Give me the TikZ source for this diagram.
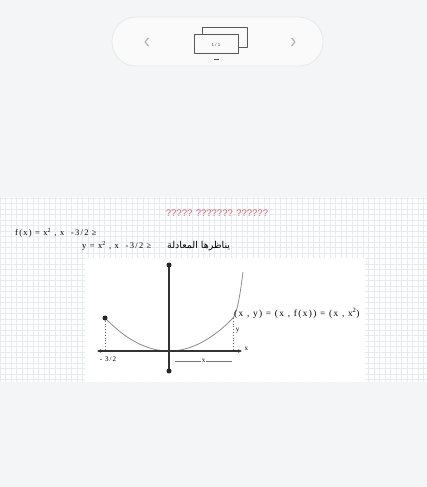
\documentclass[tikz,border=0pt]{standalone}
\usepackage{fontspec}
\setmainfont{Liberation Serif}
\setsansfont{Liberation Sans}
\newfontfamily\arabicfont[Script=Arabic]{DejaVu Sans}
\newfontfamily\spacedfont[LetterSpace=15]{Liberation Serif}
\TeXXeTstate=1
\usepackage{xcolor}
\usetikzlibrary{arrows.meta,calc}
\definecolor{pagebg}{HTML}{F4F5F7}
\definecolor{gridblue}{HTML}{E6EBF2}
\definecolor{titlered}{HTML}{D8646C}
\definecolor{curvegray}{HTML}{8C8C8C}

\begin{document}
\begin{tikzpicture}[x=1pt,y=-1pt,>=Stealth,line join=round,
  dot/.style={circle,fill=black!85,inner sep=0pt,minimum size=5pt},
  txt/.style={inner sep=0pt,anchor=west,font=\spacedfont\fontsize{8.5}{9}\selectfont},
  tiny/.style={inner sep=0.5pt,font=\spacedfont\fontsize{7}{8}\selectfont}]
  \useasboundingbox (0,0) rectangle (427,487);
  \fill[pagebg] (0,0) rectangle (427,487);
  % viewer bar
  \draw[black!9,fill=white!55!pagebg,line width=0.8pt,rounded corners=24pt] (112,17) rectangle (323,66);
  \draw[black!30,line width=1.2pt] (148.5,38) -- (145,42) -- (148.5,46);
  \draw[black!30,line width=1.2pt] (291.5,38) -- (295,42) -- (291.5,46);
  \draw[black!65,line width=1pt] (202,28) rectangle (247,48);
  \draw[black!65,line width=1pt,fill=white!55!pagebg] (194,35) rectangle (238,54);
  \node[font=\sffamily\fontsize{4.5}{5}\selectfont,text=black!70] (pageno) at (216,44.5) {1 / 1};
  \draw[black!70,line width=1pt] (214,59.5) -- (219,59.5);
  % page with grid
  \fill[white] (0,197) rectangle (427,382);
  \draw[gridblue,step=5.5pt,line width=0.3pt] (0,382) grid (427,197);
  \node[inner sep=0pt,font=\sffamily\fontsize{9.5}{10}\selectfont,text=titlered] (title) at (217,213) {????? ??????? ??????};
  \node[txt] (fx) at (15,233) {f(x) = x\textsuperscript{2} , x \ -3/2 ≥};
  \node[txt] (yx) at (82,246) {y = x\textsuperscript{2} , x \ -3/2 ≥};
  \node[inner sep=0pt,anchor=west,font=\arabicfont\fontsize{9.5}{10}\selectfont] (ar) at (167,246) {\beginR يناظرها المعادلة\endR};
  % graph
  \fill[white] (85,258) rectangle (365,382);
  \coordinate (O) at (169,351);
  \coordinate (Ytop) at (169,265);
  \coordinate (Ybot) at (169,371);
  \coordinate (Xl) at (97,351);
  \coordinate (Xr) at (242,351);
  \coordinate (A) at (105,318);
  \coordinate (Afoot) at (105,351);
  \coordinate (B) at (233,318);
  \coordinate (Bfoot) at (233,351);
  \coordinate (T) at (243,272);
  \coordinate (S1) at (175,361);
  \coordinate (S2) at (232,361);
  \draw[curvegray,line width=0.8pt] plot[domain=-1.5:1.5,samples=41] ({169+42.7*\x},{351-14.7*\x*\x})
    .. controls (237.5,313.5) and (241,288) .. (T);
  \draw[black!60,dotted,line width=0.8pt] (A) -- (Afoot);
  \draw[black!60,dotted,line width=0.8pt] (B) -- (Bfoot);
  \draw[black!80,line width=1.1pt,{Stealth[length=4pt,width=3.5pt]}-{Stealth[length=4pt,width=3.5pt]}] (Xl) -- (Xr);
  \draw[black!80,line width=1.1pt] (Ytop) -- (Ybot);
  \node[dot] (ytopdot) at (Ytop) {};
  \node[dot] (ybotdot) at (Ybot) {};
  \node[dot] (startdot) at (A) {};
  \draw[black!55,line width=0.6pt] (S1) -- (S2);
  \node[tiny,fill=white] (xlen) at ($(S1)!0.5!(S2)$) {x};
  \node[tiny,anchor=west] (xlab) at (244,349) {x};
  \node[tiny] (ylab) at (237.5,331) {y};
  \node[tiny] (lowlab) at (108,359.5) {- 3/2};
  \node[txt,font=\spacedfont\fontsize{9.3}{10}\selectfont] (pt) at (234,313) {(x , y) = (x , f(x)) = (x , x\textsuperscript{2})};
\end{tikzpicture}
\end{document}
